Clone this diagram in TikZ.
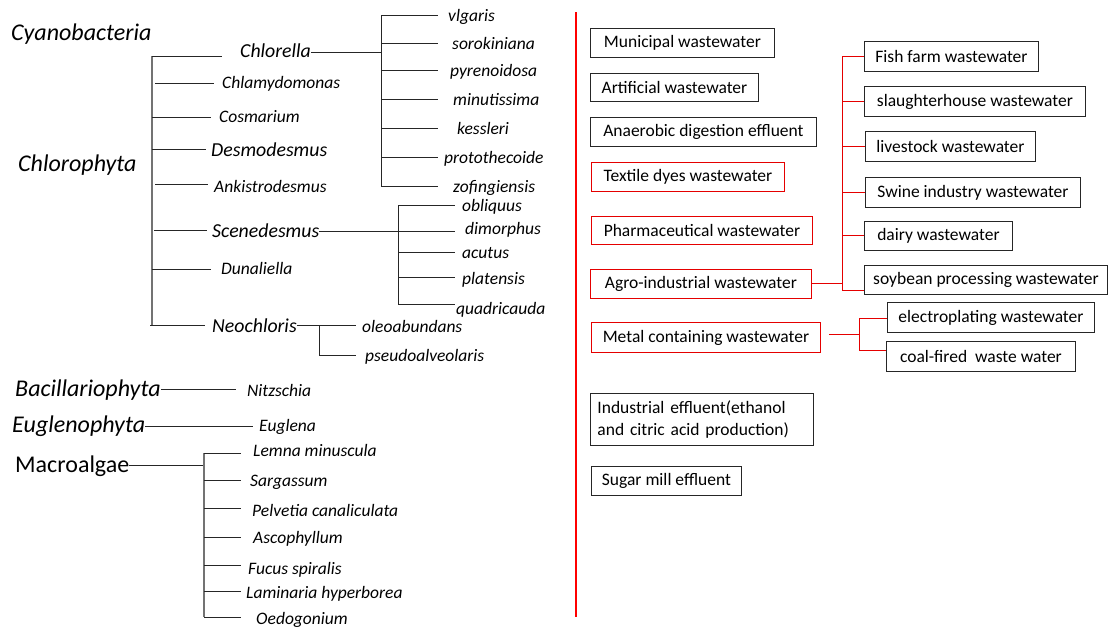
\documentclass[tikz,border=0pt]{standalone}
\usepackage{fontspec}
\setmainfont{Carlito}
\begin{document}
\begin{tikzpicture}[x=1pt,y=-1pt,
  sp/.style={font=\fontsize{17.5}{20}\selectfont\itshape, inner sep=0pt, anchor=west, text height=0.62em, text depth=0.12em, yshift=-4pt},
  gen/.style={sp, font=\fontsize{19.8}{22}\selectfont\itshape, yshift=-1pt},
  big/.style={sp, font=\fontsize{24}{28}\selectfont\itshape, yshift=-2pt},
  bigup/.style={sp, font=\fontsize{24}{28}\selectfont, yshift=-2pt},
  ln/.style={line width=0.9pt, black!85},
  gl/.style={line width=1.1pt, black!55},
  wbox/.style={draw=black!85, line width=0.9pt, font=\fontsize{17.5}{22}\selectfont, anchor=north west, inner sep=0pt},
  rbox/.style={wbox, draw=red!90!black},
  rl/.style={line width=1pt, red!90!black}
]
\useasboundingbox (0,0) rectangle (1109,630);

% ---------------- left: taxonomy ----------------
\node[big] (cyano) at (11,32) {Cyanobacteria};
\node[big] (chloro) at (18,163) {Chlorophyta};

\coordinate (cbt) at (152,56);
\coordinate (cbb) at (152,325);
\draw[gl] (cbt) -- (cbb);

\node[gen] (chlorella) at (240,50) {Chlorella};
\node[sp] (chlamy) at (222,82) {Chlamydomonas};
\node[sp] (cosma) at (219,116) {Cosmarium};
\node[gen] (desmo) at (211,149) {Desmodesmus};
\node[sp] (ankis) at (214,186) {Ankistrodesmus};
\node[gen] (scene) at (212,230) {Scenedesmus};
\node[sp] (dunal) at (221,268) {Dunaliella};
\node[gen] (neoch) at (212,325) {Neochloris};

\coordinate (e1) at (222,56);
\coordinate (e2) at (214,83);
\coordinate (e3) at (211,117);
\coordinate (e4) at (206,149);
\coordinate (e5) at (208,184);
\coordinate (e6) at (207,230);
\coordinate (e7) at (211,269);
\coordinate (e8) at (205,325);
\draw[ln] (cbt) -- (e1);
\draw[ln] ([xshift=3pt]cbt |- e2) -- (e2);
\draw[ln] (cbt |- e3) -- (e3);
\draw[ln] (cbt |- e4) -- (e4);
\draw[ln] ([xshift=3pt]cbt |- e5) -- (e5);
\draw[ln] ([xshift=2pt]cbt |- e6) -- (e6);
\draw[ln] (cbt |- e7) -- (e7);
\draw[ln] ([xshift=-2pt]cbt |- e8) -- (e8);

% Chlorella species
\coordinate (clj) at (381,52);
\coordinate (clt) at (381,15);
\coordinate (clb) at (381,186);
\draw[ln] (chlorella.east |- clj) -- (clj);
\draw[ln] (clt) -- (clb);
\node[sp] (vlg) at (448,15) {vlgaris};
\node[sp] (sor) at (452,43) {sorokiniana};
\node[sp] (pyr) at (450,70) {pyrenoidosa};
\node[sp] (min) at (453,99) {minutissima};
\node[sp] (kes) at (457,128) {kessleri};
\node[sp] (pro) at (444,157) {protothecoide};
\node[sp] (zof) at (453,186) {zofingiensis};
\foreach \y in {15,43,70,99,128,157,186}
  \draw[ln] (clt |- 0,\y) -- (438,\y);

% Scenedesmus species
\coordinate (scj) at (398,231);
\coordinate (sct) at (398,205);
\coordinate (scb) at (398,304);
\draw[ln] (scene.east |- scj) -- (scj);
\draw[ln] (sct) -- (scb);
\node[sp] (obl) at (462,205) {obliquus};
\node[sp] (dim) at (465,228) {dimorphus};
\node[sp] (acu) at (462,252) {acutus};
\node[sp] (pla) at (462,278) {platensis};
\node[sp] (qua) at (456,308) {quadricauda};
\foreach \y in {205,231,252,277,304}
  \draw[ln] (sct |- 0,\y) -- (455,\y);

% Neochloris species
\node[sp] (ole) at (362,326) {oleoabundans};
\node[sp] (pse) at (365,355) {pseudoalveolaris};
\coordinate (nj) at (319,325);
\coordinate (nb) at (319,355);
\coordinate (nol) at (356,325);
\coordinate (nps) at (356,355);
\draw[ln] (neoch.east |- nj) -- (nol);
\draw[ln] (nj) -- (nb) -- (nps);

% Bacillariophyta / Euglenophyta
\node[big] (bacil) at (15,388) {Bacillariophyta};
\node[sp] (nitz) at (247,390) {Nitzschia};
\coordinate (bj) at (236,389);
\draw[ln] (bacil.east |- bj) -- (bj);

\node[big] (eugph) at (12,424) {Euglenophyta};
\node[sp] (eugl) at (259,425) {Euglena};
\coordinate (ej) at (253,426);
\draw[ln] (eugph.east |- ej) -- (ej);

% Macroalgae
\node[bigup] (macro) at (15,464) {Macroalgae};
\coordinate (mj) at (204,465);
\coordinate (mt) at (204,453);
\coordinate (mb) at (204,617);
\draw[ln] (macro.east |- mj) -- (mj);
\draw[gl] (mt) -- (mb);
\node[sp] (lem) at (253,450) {Lemna minuscula};
\node[sp] (sar) at (250,480) {Sargassum};
\node[sp] (pel) at (252,510) {Pelvetia canaliculata};
\node[sp] (asc) at (253,537) {Ascophyllum};
\node[sp] (fuc) at (248,568) {Fucus spiralis};
\node[sp] (lam) at (246,592) {Laminaria hyperborea};
\node[sp] (oed) at (256,618) {Oedogonium};
\foreach \y in {453,480,508,537,565,591,617}
  \draw[ln] (mt |- 0,\y) -- (241,\y);

% divider
\coordinate (dt) at (576,12);
\coordinate (db) at (576,617);
\draw[red, line width=1.6pt] (dt) -- (db);

% ---------------- right: wastewater ----------------
\node[wbox, minimum width=184pt, minimum height=29pt] (muni) at (590,28) {Municipal wastewater};
\node[wbox, minimum width=168pt, minimum height=28pt] (arti) at (590,73) {Artificial wastewater};
\node[wbox, minimum width=226pt, minimum height=29pt] (anae) at (590,117) {Anaerobic digestion effluent};
\node[rbox, minimum width=193pt, minimum height=29pt] (texd) at (591,162) {Textile dyes wastewater};
\node[rbox, minimum width=221pt, minimum height=28pt] (phar) at (591,216) {Pharmaceutical wastewater};
\node[rbox, minimum width=221pt, minimum height=29pt] (agro) at (590,269) {Agro-industrial wastewater};
\node[rbox, minimum width=229pt, minimum height=30pt] (metal) at (591,322) {Metal containing wastewater};
\node[wbox, minimum height=52pt, inner xsep=7pt, text width=209pt, align=left] (indu) at (590,393) {Industrial effluent(ethanol\\and citric acid production)};
\node[wbox, minimum width=150pt, minimum height=29pt] (sugar) at (591,466) {Sugar mill effluent};

\node[wbox, minimum width=174pt, minimum height=30pt] (fish) at (864,41) {Fish farm wastewater};
\node[wbox, minimum width=221pt, minimum height=30pt] (slau) at (864,86) {slaughterhouse wastewater};
\node[wbox, minimum width=170pt, minimum height=30pt] (live) at (865,131) {livestock wastewater};
\node[wbox, minimum width=215pt, minimum height=30pt] (swin) at (865,177) {Swine industry wastewater};
\node[wbox, minimum width=148pt, minimum height=29pt] (dair) at (864,221) {dairy wastewater};
\node[wbox, minimum width=243pt, minimum height=29pt] (soyb) at (864,265) {soybean processing wastewater};
\node[wbox, minimum width=207pt, minimum height=30pt] (elec) at (887,302) {electroplating wastewater};
\node[wbox, minimum width=189pt, minimum height=30pt] (coal) at (886,341) {coal-fired~ waste water};

% agro branches
\coordinate (abt) at (842,57);
\coordinate (abb) at (842,290);
\draw[rl] (agro.east) -- (agro.east -| abt);
\draw[rl] (abt) -- (abb);
\draw[rl] (abt |- fish.west) -- (fish.west);
\draw[rl] (abt |- slau.west) -- (slau.west);
\draw[rl] (abt |- live.west) -- (live.west);
\draw[rl] (abt |- swin.west) -- (swin.west);
\draw[rl] (abt |- dair.west) -- (dair.west);
\draw[rl] (abb) -- (abb -| soyb.west);

% metal branches
\coordinate (ms) at (829,334);
\coordinate (mbt) at (859,318);
\coordinate (mbb) at (859,350);
\draw[rl] (ms) -- (ms -| mbt);
\draw[rl] (mbt) -- (mbb);
\draw[rl] (mbt) -- (mbt -| elec.west);
\draw[rl] (mbb) -- (mbb -| coal.west);
\end{tikzpicture}
\end{document}
